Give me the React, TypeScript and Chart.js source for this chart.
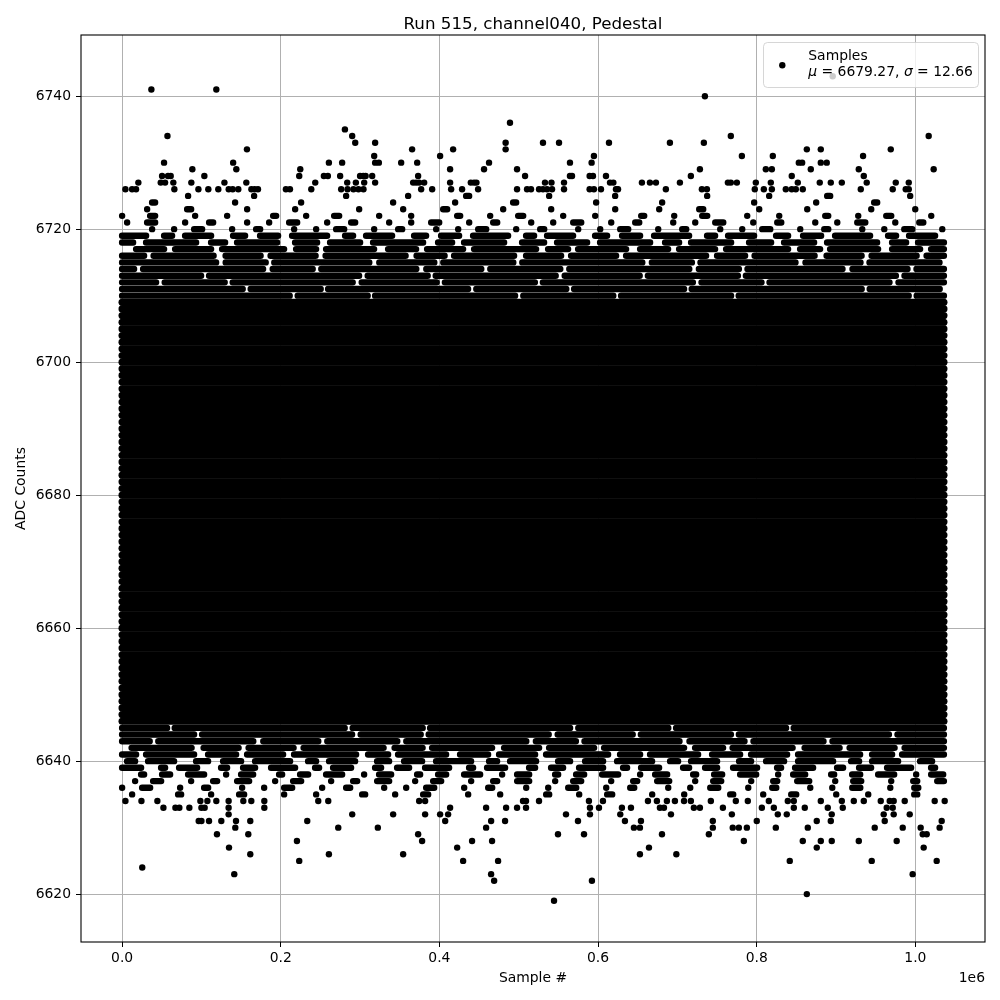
import React, { useEffect, useRef } from "react";
import { Chart, registerables } from "chart.js";

Chart.register(...registerables);

// ---------------- data (sample index in units of 1e6) ----------------
const TITLE = "Run 515, channel040, Pedestal";
const X_LABEL = "Sample #";
const Y_LABEL = "ADC Counts";
const X_OFFSET_LABEL = "1e6";
const LEGEND_NAME = "Samples";
const SAMPLE_MEAN = "6679.27";
const SAMPLE_SIGMA = "12.66";

const xTicks = [0.0, 0.2, 0.4, 0.6, 0.8, 1.0];
const yTicks = [6620, 6640, 6660, 6680, 6700, 6720, 6740];
const xLimits = [-0.0518, 1.0878];
const yLimits = [6612.8, 6749.2];

// first and last sample index (×1e6)
const sampleSpan = [0, 1.036];

// integer ADC levels that are densely populated across the whole run
const rowLevels = [
  6635, 6636, 6637, 6638, 6639, 6640, 6641, 6642, 6643, 6644, 6645,
  6646, 6647, 6648, 6649, 6650, 6651, 6652, 6653, 6654, 6655, 6656, 6657,
  6658, 6659, 6660, 6661, 6662, 6663, 6664, 6665, 6666, 6667, 6668, 6669,
  6670, 6671, 6672, 6673, 6674, 6675, 6676, 6677, 6678, 6679, 6680, 6681,
  6682, 6683, 6684, 6685, 6686, 6687, 6688, 6689, 6690, 6691, 6692, 6693,
  6694, 6695, 6696, 6697, 6698, 6699, 6700, 6701, 6702, 6703, 6704, 6705,
  6706, 6707, 6708, 6709, 6710, 6711, 6712, 6713, 6714, 6715, 6716, 6717,
  6718, 6719, 6720, 6721, 6722, 6723, 6724, 6725,
];
// fraction of the run's width covered by markers at each level
const rowOccupancy = [
  0.22, 0.3, 0.4, 0.5, 0.6, 0.7, 0.85, 0.9, 0.95, 0.97, 0.98,
  1, 1, 1, 1, 1, 1, 1, 1, 1, 1, 1, 1,
  1, 1, 1, 1, 1, 1, 1, 1, 1, 1, 1, 1,
  1, 1, 1, 1, 1, 1, 1, 1, 1, 1, 1, 1,
  1, 1, 1, 1, 1, 1, 1, 1, 1, 1, 1, 1,
  1, 1, 1, 1, 1, 1, 1, 1, 1, 1, 1, 1,
  1, 1, 1, 1, 0.98, 0.98, 0.97, 0.97, 0.95, 0.93, 0.9, 0.85,
  0.8, 0.68, 0.35, 0.3, 0.22, 0.15, 0.12, 0.09,
];

// sparse tail samples: [ADC level, sample indices ×1e6]
const upperTail: [number, number[]][] = [
  [6743, [0.8958]],
  [6741, [0.0369, 0.1188]],
  [6740, [0.7347]],
  [6736, [0.489]],
  [6735, [0.2809]],
  [6734, [0.0572, 0.2901, 0.7674, 1.0168]],
  [6733, [0.2939, 0.319, 0.4835, 0.5306, 0.5508, 0.6138, 0.6906, 0.7334]],
  [6732, [0.1574, 0.3656, 0.4173, 0.4835, 0.8632, 0.8808, 0.969]],
  [6731, [0.3178, 0.4009, 0.5948, 0.7813, 0.8203, 0.9341]],
  [6730, [0.0529, 0.14, 0.2607, 0.2774, 0.319, 0.3237, 0.3518, 0.372, 0.4626, 0.5646, 0.5919, 0.8531, 0.8573, 0.8808, 0.8883]],
  [6729, [0.0886, 0.144, 0.2246, 0.4135, 0.4563, 0.4979, 0.7284, 0.8115, 0.8191, 0.8682, 0.9287, 1.0231]],
  [6728, [0.0504, 0.0579, 0.0613, 0.1037, 0.2233, 0.2544, 0.2594, 0.2749, 0.3, 0.304, 0.307, 0.3153, 0.3732, 0.508, 0.5646, 0.5672, 0.5894, 0.5936, 0.61, 0.717, 0.8442, 0.935]],
  [6727, [0.0205, 0.0487, 0.0542, 0.0646, 0.0873, 0.129, 0.1566, 0.2435, 0.2838, 0.2947, 0.3052, 0.319, 0.3669, 0.3707, 0.3745, 0.3808, 0.4135, 0.4396, 0.4437, 0.4467, 0.5331, 0.5413, 0.5571, 0.6151, 0.6193, 0.6553, 0.6654, 0.673, 0.7032, 0.7637, 0.7674, 0.775, 0.7989, 0.8178, 0.8518, 0.8795, 0.8934, 0.9073, 0.9387, 0.9753, 0.9917]],
  [6726, [0.0042, 0.0126, 0.0176, 0.0659, 0.0962, 0.1087, 0.1213, 0.1344, 0.1394, 0.1465, 0.163, 0.1671, 0.1713, 0.2065, 0.2116, 0.2385, 0.2762, 0.2842, 0.2917, 0.298, 0.3043, 0.377, 0.3909, 0.4148, 0.4286, 0.4488, 0.4979, 0.5105, 0.5155, 0.5256, 0.5306, 0.5357, 0.542, 0.5571, 0.5894, 0.5948, 0.6037, 0.6226, 0.6252, 0.6855, 0.7309, 0.7372, 0.7976, 0.809, 0.8191, 0.8367, 0.8442, 0.8493, 0.8581, 0.9312, 0.9715, 0.9879, 0.9917]],
];

const lowerTail: [number, number[]][] = [
  [6634, [0.0042, 0.0244, 0.0445, 0.0987, 0.1075, 0.1188, 0.1343, 0.1528, 0.1629, 0.1793, 0.2473, 0.2599, 0.3745, 0.382, 0.5054, 0.5092, 0.5256, 0.5885, 0.6062, 0.6629, 0.6742, 0.6868, 0.6969, 0.7084, 0.717, 0.7422, 0.7737, 0.7888, 0.8153, 0.8392, 0.8468, 0.8808, 0.9073, 0.9224, 0.935, 0.9564, 0.9677, 0.9727, 0.9866, 1.0244, 1.037]],
  [6633, [0.0521, 0.0672, 0.0722, 0.0848, 0.1, 0.1041, 0.1343, 0.1793, 0.4135, 0.4589, 0.4841, 0.4979, 0.5092, 0.5898, 0.6012, 0.6301, 0.6415, 0.678, 0.6831, 0.7208, 0.7284, 0.7574, 0.8065, 0.8216, 0.8468, 0.8606, 0.8896, 0.9085, 0.9639, 0.9715]],
  [6632, [0.1343, 0.2901, 0.3417, 0.382, 0.4009, 0.411, 0.5596, 0.5898, 0.628, 0.6919, 0.7687, 0.8266, 0.8379, 0.8946, 0.9601, 0.9727, 0.9929]],
  [6631, [0.0966, 0.1, 0.1096, 0.1251, 0.1436, 0.1616, 0.2334, 0.4073, 0.4652, 0.4828, 0.5747, 0.6339, 0.6541, 0.7447, 0.8001, 0.8757, 0.8934, 0.9614, 1.0332]],
  [6630, [0.1427, 0.2725, 0.3224, 0.4589, 0.6452, 0.6528, 0.7447, 0.7698, 0.7775, 0.7876, 0.8241, 0.8644, 0.9488, 0.9841, 1.0067, 1.0306]],
  [6629, [0.1196, 0.1591, 0.3732, 0.5495, 0.5823, 0.6806, 0.7397, 1.0093, 1.0143]],
  [6628, [0.2204, 0.3782, 0.4412, 0.4664, 0.7838, 0.8581, 0.8808, 0.8946, 0.9287, 0.9765]],
  [6627, [0.1348, 0.4224, 0.6642, 0.8757, 1.0105]],
  [6626, [0.1616, 0.2607, 0.3543, 0.6528, 0.6987]],
  [6625, [0.2233, 0.4299, 0.474, 0.8417, 0.945, 1.0269]],
  [6624, [0.0254]],
  [6623, [0.1414, 0.4652, 0.9966]],
  [6622, [0.469, 0.5923]],
  [6620, [0.8632]],
  [6619, [0.5445]],
];

// ---------------- styles ----------------
const FONT = '"DejaVu Sans", "Liberation Sans", sans-serif';
const MARKER_R = 3.2;
const ROW_WIDTH = 6.4;
const SOLID_ROW_WIDTH = 7.2;

// dash textures (px) used to render partially filled marker rows
const DASH_TEXTURES: [number, number[]][] = [
  [0.98, [110, 7.6, 170, 8, 70, 7.4, 140, 8.2, 90, 7.8]],
  [0.97, [90, 8, 150, 8.6, 60, 8, 120, 9, 75, 8.2]],
  [0.95, [70, 9, 120, 9.6, 40, 8.6, 95, 10, 55, 9]],
  [0.9, [45, 10, 80, 11, 28, 9.5, 60, 12, 35, 10]],
  [0.85, [36, 11, 62, 12, 20, 10, 48, 14, 28, 11]],
  [0.8, [30, 13, 50, 15, 14, 12, 40, 18, 22, 13]],
  [0.7, [18, 14, 35, 18, 8, 13, 26, 22, 12, 15]],
  [0.6, [12, 16, 24, 20, 4, 14, 18, 24, 6, 16]],
  [0.5, [8, 18, 16, 22, 0.01, 15, 12, 26, 3, 18]],
  [0.4, [4, 20, 12, 26, 0.01, 18, 8, 30, 0.01, 22]],
  [0.3, [0.01, 20, 8, 30, 0.01, 24, 4, 34, 0.01, 22]],
  [0.22, [0.01, 28, 5, 40, 0.01, 32, 0.01, 46, 3, 30]],
  [0.15, [0.01, 40, 4, 56, 0.01, 48, 0.01, 64, 0.01, 44]],
  [0.1, [0.01, 58, 3, 80, 0.01, 66, 0.01, 92, 0.01, 62]],
];

function textureFor(occ: number): number[] {
  if (occ >= 0.99) return [];
  let best = DASH_TEXTURES[0];
  for (const t of DASH_TEXTURES) {
    if (Math.abs(t[0] - occ) < Math.abs(best[0] - occ)) best = t;
  }
  return best[1];
}

const textPlugin = {
  id: "mplText",
  afterDraw(chart: any) {
    const { ctx, chartArea: a } = chart;
    ctx.save();
    // frame
    ctx.strokeStyle = "#000";
    ctx.lineWidth = 1.1;
    ctx.strokeRect(a.left, a.top, a.right - a.left, a.bottom - a.top);

    const cx = (a.left + a.right) / 2;
    ctx.fillStyle = "#000";
    // title
    ctx.font = `16.7px ${FONT}`;
    ctx.textAlign = "center";
    ctx.textBaseline = "alphabetic";
    ctx.fillText(TITLE, cx, 28.5);
    // x label
    ctx.font = `13.9px ${FONT}`;
    ctx.fillText(X_LABEL, cx, 981.8);
    // offset text
    ctx.textAlign = "right";
    ctx.fillText(X_OFFSET_LABEL, a.right, 981.7);
    // y label
    ctx.save();
    ctx.translate(21.5, (a.top + a.bottom) / 2);
    ctx.rotate(-Math.PI / 2);
    ctx.textAlign = "center";
    ctx.textBaseline = "middle";
    ctx.fillText(Y_LABEL, 0, 0);
    ctx.restore();

    // legend box
    const bx = 763.5, by = 42.5, bw = 215, bh = 45, r = 4;
    ctx.beginPath();
    ctx.moveTo(bx + r, by);
    ctx.lineTo(bx + bw - r, by);
    ctx.arcTo(bx + bw, by, bx + bw, by + r, r);
    ctx.lineTo(bx + bw, by + bh - r);
    ctx.arcTo(bx + bw, by + bh, bx + bw - r, by + bh, r);
    ctx.lineTo(bx + r, by + bh);
    ctx.arcTo(bx, by + bh, bx, by + bh - r, r);
    ctx.lineTo(bx, by + r);
    ctx.arcTo(bx, by, bx + r, by, r);
    ctx.closePath();
    ctx.fillStyle = "rgba(255,255,255,0.8)";
    ctx.fill();
    ctx.strokeStyle = "rgba(204,204,204,0.8)";
    ctx.lineWidth = 1;
    ctx.stroke();

    ctx.fillStyle = "#000";
    ctx.beginPath();
    ctx.arc(782.3, 65.3, MARKER_R, 0, Math.PI * 2);
    ctx.fill();

    ctx.textAlign = "left";
    ctx.textBaseline = "alphabetic";
    ctx.font = `13.9px ${FONT}`;
    ctx.fillText(LEGEND_NAME, 808.3, 60);
    const parts: [string, boolean][] = [
      ["\u03bc", true],
      [" = " + SAMPLE_MEAN + ", ", false],
      ["\u03c3", true],
      [" = " + SAMPLE_SIGMA, false],
    ];
    let tx = 808.3;
    for (const [s, it] of parts) {
      ctx.font = `${it ? "italic " : ""}13.9px ${FONT}`;
      ctx.fillText(s, tx, 76);
      tx += ctx.measureText(s).width;
    }
    ctx.restore();
  },
};

export default function App() {
  const ref = useRef<HTMLCanvasElement | null>(null);

  useEffect(() => {
    if (!ref.current) return;

    const rowSets = rowLevels.map((lvl, i) => {
      const occ = rowOccupancy[i];
      const solid = occ >= 0.99;
      return {
        type: "line" as const,
        data: [
          { x: sampleSpan[0], y: lvl },
          { x: sampleSpan[1], y: lvl },
        ],
        showLine: true,
        borderColor: "#000",
        backgroundColor: "#000",
        borderWidth: solid ? SOLID_ROW_WIDTH : ROW_WIDTH,
        borderCapStyle: "round" as const,
        borderDash: textureFor(occ),
        borderDashOffset: (lvl * 47) % 250,
        pointRadius: 0,
        fill: false,
        tension: 0,
      };
    });

    const tailPoints = [...upperTail, ...lowerTail].flatMap(([adc, xs]) =>
      xs.map((x) => ({ x, y: adc }))
    );

    const chart = new Chart(ref.current, {
      type: "scatter",
      data: {
        datasets: [
          {
            label: LEGEND_NAME,
            data: tailPoints,
            pointRadius: MARKER_R,
            pointBorderWidth: 0,
            pointBackgroundColor: "#000",
            backgroundColor: "#000",
            borderColor: "#000",
            showLine: false,
          },
          ...rowSets,
        ] as any,
      },
      options: {
        animation: false,
        responsive: false,
        events: [],
        layout: { padding: { left: 0, right: 15, top: 35, bottom: 0 } },
        plugins: {
          legend: { display: false },
          title: { display: false },
          tooltip: { enabled: false },
        },
        scales: {
          x: {
            type: "linear",
            min: xLimits[0],
            max: xLimits[1],
            afterBuildTicks: (s: any) => {
              s.ticks = xTicks.map((v) => ({ value: v }));
            },
            afterFit: (s: any) => {
              s.height = 58;
            },
            ticks: {
              callback: (v: any) => Number(v).toFixed(1),
              color: "#000",
              font: { family: FONT, size: 13.9 },
              padding: 3,
              maxRotation: 0,
              autoSkip: false,
            },
            grid: {
              color: "#b0b0b0",
              lineWidth: 1,
              tickColor: "#000",
              tickLength: 5,
              drawTicks: true,
            },
            border: { display: false },
          },
          y: {
            type: "linear",
            min: yLimits[0],
            max: yLimits[1],
            afterBuildTicks: (s: any) => {
              s.ticks = yTicks.map((v) => ({ value: v }));
            },
            afterFit: (s: any) => {
              s.width = 81;
            },
            ticks: {
              callback: (v: any) => String(v),
              color: "#000",
              font: { family: FONT, size: 13.9 },
              padding: 5,
              autoSkip: false,
            },
            grid: {
              color: "#b0b0b0",
              lineWidth: 1,
              tickColor: "#000",
              tickLength: 5,
              drawTicks: true,
            },
            border: { display: false },
          },
        },
      } as any,
      plugins: [textPlugin],
    });

    return () => chart.destroy();
  }, []);

  return (
    <div style={{ position: "fixed", left: 0, top: 0, width: 1000, height: 1000, background: "#fff" }}>
      <canvas ref={ref} width={1000} height={1000} style={{ display: "block", width: 1000, height: 1000 }} />
    </div>
  );
}
